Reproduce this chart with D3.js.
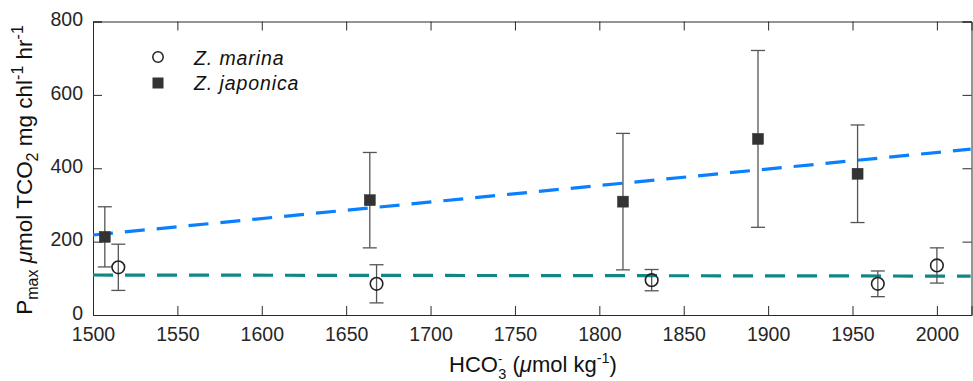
<!DOCTYPE html>
<html>
<head>
<meta charset="utf-8">
<script src="https://cdn.jsdelivr.net/npm/d3@7"></script>
<style>
  html, body { margin: 0; padding: 0; background: #fff; }
  svg { display: block; font-family: "Liberation Sans", Arial, Helvetica, sans-serif; }
</style>
</head>
<body>
<svg id="chart" width="973" height="381"></svg>
<script>
// ---- data ----
const marinaX   = [1515, 1668, 1831, 1965, 2000];
const marinaY   = [130, 85, 95, 85, 135];
const marinaErr = [63, 52, 29, 35, 48];

const japonicaX   = [1507, 1664, 1814, 1894, 1953];
const japonicaY   = [213, 313, 309, 480, 385];
const japonicaErr = [82, 130, 186, 241, 133];

const fitX        = [1500, 2020];
const japonicaFit = [218, 452];
const marinaFit   = [109, 106];

const xTicks = [1500, 1550, 1600, 1650, 1700, 1750, 1800, 1850, 1900, 1950, 2000];
const yTicks = [0, 200, 400, 600, 800];

const legendLabels = ["Z. marina", "Z. japonica"];

// ---- layout ----
const svg = d3.select("#chart");
const pLeft = 93, pRight = 971.5, pTop = 21.5, pBottom = 315;
const x = d3.scaleLinear().domain([1500, 2020.5]).range([pLeft, pRight]);
const y = d3.scaleLinear().domain([0, 800]).range([pBottom, pTop]);
const axisColor = "#2b2b2b";
const tickFont = 19.5;

// clip
svg.append("defs").append("clipPath").attr("id", "plotclip")
  .append("rect").attr("x", pLeft).attr("y", pTop).attr("width", pRight - pLeft).attr("height", pBottom - pTop);

// axes
const gx = svg.append("g").attr("transform", `translate(0,${pBottom})`)
  .call(d3.axisBottom(x).tickValues(xTicks).tickSize(-9).tickPadding(14).tickFormat(d3.format("d")));
const gy = svg.append("g").attr("transform", `translate(${pLeft},0)`)
  .call(d3.axisLeft(y).tickValues(yTicks).tickSize(-9).tickPadding(10).tickFormat(d3.format("d")));
const gxt = svg.append("g").attr("transform", `translate(0,${pTop})`)
  .call(d3.axisTop(x).tickValues(xTicks).tickSize(-9).tickFormat(""));
const gyr = svg.append("g").attr("transform", `translate(${pRight},0)`)
  .call(d3.axisRight(y).tickValues(yTicks).tickSize(-9).tickFormat(""));

[gx, gy, gxt, gyr].forEach(g => {
  g.select(".domain").attr("stroke", axisColor).attr("stroke-width", 1);
  g.selectAll(".tick line").attr("stroke", axisColor).attr("stroke-width", 1);
  g.selectAll(".tick text").attr("fill", "#262626").attr("font-size", tickFont)
    .attr("font-family", "Liberation Sans, Arial, sans-serif");
});
gx.selectAll(".tick text").attr("dy", "0.71em").attr("y", 12.5);
gy.selectAll(".tick text").attr("x", -10).attr("dy", "0.3em").attr("transform", "translate(0,-1.5)");

// fit lines
const line = d3.line().x(d => x(d[0])).y(d => y(d[1]));
const plot = svg.append("g").attr("clip-path", "url(#plotclip)");
plot.append("path")
  .datum(fitX.map((v, i) => [v, japonicaFit[i]]))
  .attr("d", line).attr("fill", "none")
  .attr("stroke", "#0a80ff").attr("stroke-width", 3.2).attr("stroke-dasharray", "20,12");
plot.append("path")
  .datum(fitX.map((v, i) => [v, marinaFit[i]]))
  .attr("d", line).attr("fill", "none")
  .attr("stroke", "#0f8783").attr("stroke-width", 3.2).attr("stroke-dasharray", "20,12");

// error bars
function errorBars(xs, ys, es) {
  const g = svg.append("g");
  xs.forEach((xv, i) => {
    const cx = x(xv), y1 = y(ys[i] + es[i]), y0 = y(ys[i] - es[i]);
    g.append("line").attr("x1", cx).attr("x2", cx).attr("y1", y1).attr("y2", y0)
      .attr("stroke", "#555").attr("stroke-width", 1.3);
    [y1, y0].forEach(yy => g.append("line").attr("x1", cx - 7).attr("x2", cx + 7)
      .attr("y1", yy).attr("y2", yy).attr("stroke", "#555").attr("stroke-width", 1.3));
  });
}
errorBars(japonicaX, japonicaY, japonicaErr);
errorBars(marinaX, marinaY, marinaErr);

// markers
svg.append("g").selectAll("rect").data(japonicaX).join("rect")
  .attr("x", (d) => x(d) - 5.5).attr("y", (d, i) => y(japonicaY[i]) - 5.5)
  .attr("width", 11).attr("height", 11).attr("fill", "#333").attr("stroke", "#333").attr("stroke-width", 0.5);
svg.append("g").selectAll("circle").data(marinaX).join("circle")
  .attr("cx", d => x(d)).attr("cy", (d, i) => y(marinaY[i])).attr("r", 6.3)
  .attr("fill", "none").attr("stroke", "#222").attr("stroke-width", 1.6);

// legend
const lg = svg.append("g");
lg.append("circle").attr("cx", 158).attr("cy", 57).attr("r", 5.2)
  .attr("fill", "none").attr("stroke", "#222").attr("stroke-width", 1.5);
lg.append("rect").attr("x", 152.5).attr("y", 77.5).attr("width", 11).attr("height", 11).attr("fill", "#333");
lg.selectAll("text").data(legendLabels).join("text")
  .attr("x", 194).attr("y", (d, i) => 64.5 + i * 25)
  .attr("font-size", 19.5).attr("letter-spacing", 0.9).attr("font-style", "italic").attr("fill", "#111").text(d => d);

// x label
const xl = svg.append("text").attr("x", 533).attr("y", 372).attr("text-anchor", "middle")
  .attr("font-size", 22).attr("fill", "#111");
xl.append("tspan").text("HCO");
xl.append("tspan").attr("font-size", 13).attr("dy", -9).text("-");
xl.append("tspan").attr("font-size", 14.5).attr("dx", -4).attr("dy", 16).text("3");
xl.append("tspan").attr("dy", -7).text(" (");
xl.append("tspan").attr("font-style", "italic").text("\u03BC");
xl.append("tspan").text("mol kg");
xl.append("tspan").attr("font-size", 14.5).attr("dy", -9).text("-1");
xl.append("tspan").attr("dy", 9).text(")");

// y label
const yl = svg.append("text").attr("transform", "translate(32,170) rotate(-90)")
  .attr("text-anchor", "middle").attr("font-size", 22.5).attr("fill", "#111");
yl.append("tspan").text("P");
yl.append("tspan").attr("font-size", 16).attr("dy", 6).text("max");
yl.append("tspan").attr("dy", -6).text(" ");
yl.append("tspan").attr("font-style", "italic").text("\u03BC");
yl.append("tspan").text("mol TCO");
yl.append("tspan").attr("font-size", 16).attr("dy", 6).text("2");
yl.append("tspan").attr("dy", -6).text(" mg chl");
yl.append("tspan").attr("font-size", 16).attr("dy", -9).text("-1");
yl.append("tspan").attr("dy", 9).text(" hr");
yl.append("tspan").attr("font-size", 16).attr("dy", -9).text("-1");
</script>
</body>
</html>
